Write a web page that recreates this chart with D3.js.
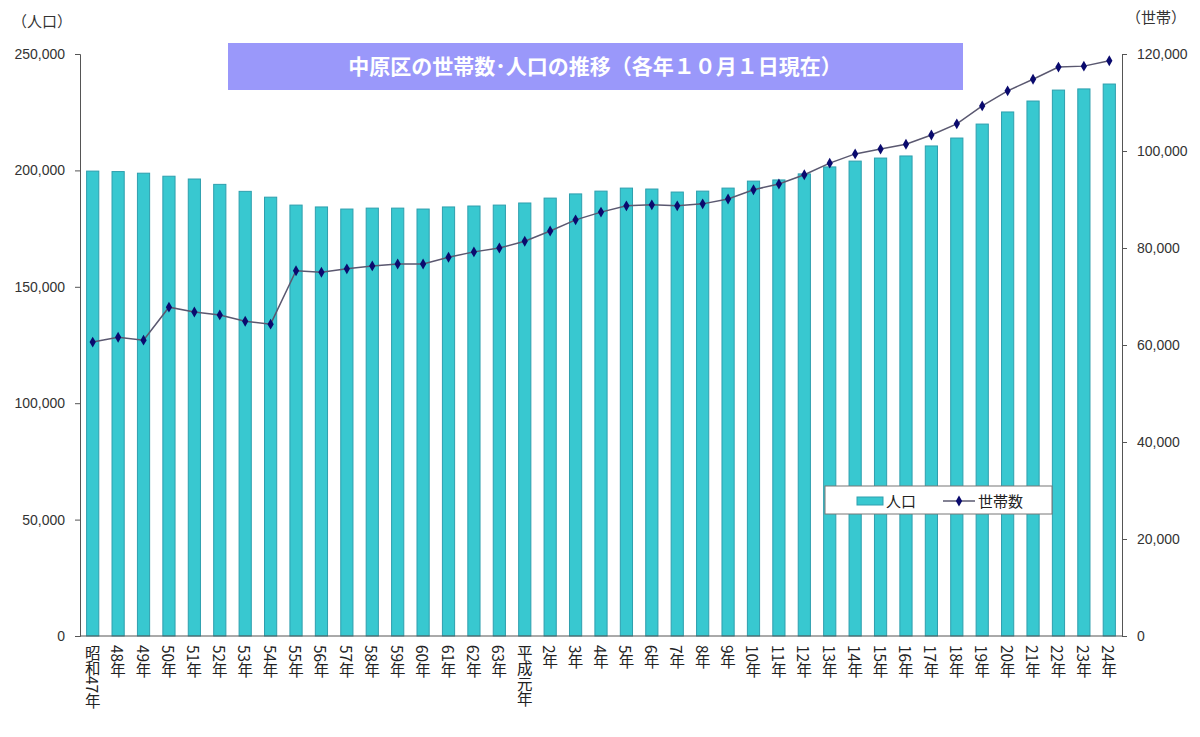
<!DOCTYPE html>
<html>
<head>
<meta charset="utf-8">
<script src="https://cdn.jsdelivr.net/npm/d3@7"></script>
<style>
  body { margin: 0; background: #fff; }
  svg text { font-family: "Noto Sans CJK JP", "DejaVu Sans", sans-serif; }
</style>
</head>
<body>
<div id="chart"></div>
<script>
// years (昭和47年 .. 平成24年)
const years = ["昭和47年", "48年", "49年", "50年", "51年", "52年", "53年", "54年", "55年", "56年",
  "57年", "58年", "59年", "60年", "61年", "62年", "63年", "平成元年", "2年", "3年",
  "4年", "5年", "6年", "7年", "8年", "9年", "10年", "11年", "12年", "13年",
  "14年", "15年", "16年", "17年", "18年", "19年", "20年", "21年", "22年", "23年", "24年"];

// 人口
const population = [199700, 199500, 198800, 197500, 196300, 194000, 191000, 188500, 185100, 184300,
  183400, 183800, 183800, 183400, 184300, 184700, 185100, 186000, 188100, 189900,
  191100, 192400, 192000, 190700, 191100, 192400, 195400, 195900, 198500, 201500,
  204000, 205300, 206200, 210500, 213900, 219900, 225100, 229800, 234500, 235000, 237100];

// 世帯数
const households = [60600, 61600, 61000, 67800, 66800, 66200, 64900, 64300, 75300, 75000,
  75700, 76300, 76700, 76700, 78100, 79200, 80000, 81400, 83500, 85800,
  87400, 88700, 88900, 88700, 89100, 90100, 92000, 93200, 95100, 97500,
  99400, 100400, 101400, 103300, 105600, 109300, 112400, 114800, 117300, 117500, 118600];

const leftTicks = [0, 50000, 100000, 150000, 200000, 250000];
const rightTicks = [0, 20000, 40000, 60000, 80000, 100000, 120000];

const width = 1200, height = 737;
const plot = { left: 80, right: 1122, top: 54, bottom: 636 };

const svg = d3.select("#chart").append("svg")
    .attr("width", width)
    .attr("height", height);

const x = d3.scaleBand()
    .domain(years)
    .range([plot.left, plot.right])
    .paddingInner(0.52)
    .paddingOuter(0.26);

const yLeft = d3.scaleLinear().domain([0, 250000]).range([plot.bottom, plot.top]);
const yRight = d3.scaleLinear().domain([0, 120000]).range([plot.bottom, plot.top]);

const fmt = d3.format(",");

// bars
svg.append("g")
  .selectAll("rect")
  .data(years)
  .enter()
  .append("rect")
    .attr("x", d => x(d))
    .attr("y", (d, i) => yLeft(population[i]))
    .attr("width", x.bandwidth())
    .attr("height", (d, i) => plot.bottom - yLeft(population[i]))
    .attr("fill", "#38c8d0")
    .attr("stroke", "#2e9fae")
    .attr("stroke-width", 1);

// left axis
const leftAxis = svg.append("g")
    .attr("transform", `translate(${plot.left},0)`)
    .call(d3.axisLeft(yLeft).tickValues(leftTicks).tickFormat(fmt).tickSize(5).tickPadding(10));
leftAxis.select(".domain").attr("stroke", "#555");
leftAxis.selectAll(".tick line").attr("stroke", "#555");
leftAxis.selectAll("text").attr("font-size", 14).attr("fill", "#333")
    .style("font-family", "'Liberation Sans', Arial, sans-serif");

// right axis
const rightAxis = svg.append("g")
    .attr("transform", `translate(${plot.right},0)`)
    .call(d3.axisRight(yRight).tickValues(rightTicks).tickFormat(fmt).tickSize(5).tickPadding(10));
rightAxis.select(".domain").attr("stroke", "#555");
rightAxis.selectAll(".tick line").attr("stroke", "#555");
rightAxis.selectAll("text").attr("font-size", 14).attr("fill", "#333")
    .style("font-family", "'Liberation Sans', Arial, sans-serif");

// bottom axis line
svg.append("line")
    .attr("x1", plot.left).attr("x2", plot.right)
    .attr("y1", plot.bottom).attr("y2", plot.bottom)
    .attr("stroke", "#555");

// x labels, vertical
svg.append("g")
  .selectAll("text")
  .data(years)
  .enter()
  .append("text")
    .attr("x", d => x(d) + x.bandwidth() / 2)
    .attr("y", plot.bottom + 9)
    .attr("font-size", 15.5)
    .attr("fill", "#222")
    .style("writing-mode", "vertical-rl")
    .style("text-orientation", "mixed")
    .style("font-family", "'Noto Sans CJK JP', sans-serif")
    .text(d => d);

// household line
const line = d3.line()
    .x((d, i) => x(years[i]) + x.bandwidth() / 2)
    .y(d => yRight(d));

svg.append("path")
    .datum(households)
    .attr("d", line)
    .attr("fill", "none")
    .attr("stroke", "#5a5870")
    .attr("stroke-width", 1.5);

const diamond = d3.symbol().type(d3.symbolDiamond).size(34);
svg.append("g")
  .selectAll("path")
  .data(households)
  .enter()
  .append("path")
    .attr("d", diamond)
    .attr("transform", (d, i) => `translate(${x(years[i]) + x.bandwidth() / 2},${yRight(d)})`)
    .attr("fill", "#0a0a6e");

// axis unit labels
svg.append("text")
    .attr("x", 42).attr("y", 27)
    .attr("text-anchor", "middle")
    .attr("font-size", 15).attr("fill", "#333")
    .text("（人口）");
svg.append("text")
    .attr("x", 1156).attr("y", 23)
    .attr("text-anchor", "middle")
    .attr("font-size", 15).attr("fill", "#333")
    .text("（世帯）");

// title box
svg.append("rect")
    .attr("x", 228).attr("y", 43)
    .attr("width", 735).attr("height", 47)
    .attr("fill", "#9a98fa");
svg.append("text")
    .attr("x", 595).attr("y", 74)
    .attr("text-anchor", "middle")
    .attr("font-size", 21).attr("font-weight", "bold")
    .attr("fill", "#fff")
    .text("中原区の世帯数･人口の推移（各年１０月１日現在）");

// legend
const legend = svg.append("g").attr("transform", "translate(825,486)");
legend.append("rect")
    .attr("width", 227).attr("height", 28)
    .attr("fill", "#fff").attr("stroke", "#777");
legend.append("rect")
    .attr("x", 32).attr("y", 11).attr("width", 26).attr("height", 8)
    .attr("fill", "#38c8d0").attr("stroke", "#2e9fae");
legend.append("text")
    .attr("x", 61).attr("y", 21).attr("font-size", 15).attr("fill", "#222")
    .text("人口");
legend.append("line")
    .attr("x1", 118).attr("x2", 150).attr("y1", 15).attr("y2", 15)
    .attr("stroke", "#5a5870").attr("stroke-width", 1.5);
legend.append("path")
    .attr("d", diamond)
    .attr("transform", "translate(134,15)")
    .attr("fill", "#0a0a6e");
legend.append("text")
    .attr("x", 153).attr("y", 21).attr("font-size", 15).attr("fill", "#222")
    .text("世帯数");
</script>
</body>
</html>
